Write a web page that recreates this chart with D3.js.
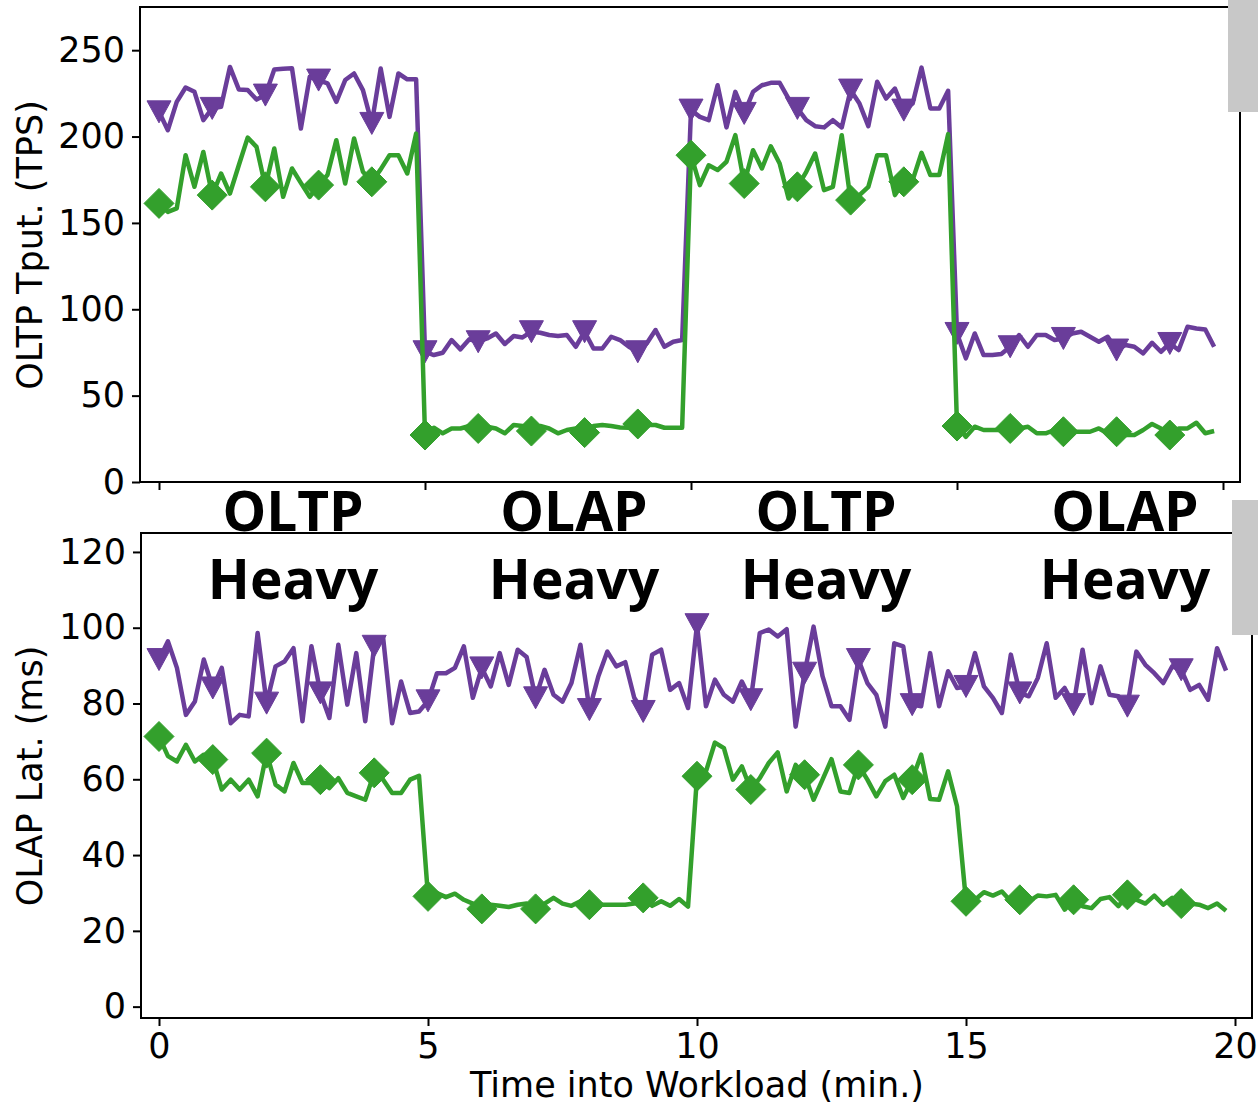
<!DOCTYPE html>
<html>
<head>
<meta charset="utf-8">
<script src="https://cdn.jsdelivr.net/npm/d3@7"></script>
<style>
  body { margin: 0; background: #fff; }
  svg { display: block; background: #fff; }
</style>
</head>
<body>
<svg id="chart" width="1258" height="1106"></svg>
<script>
// one sample every 10 s, 20 minutes of workload
var minutes = d3.range(120).map(function (i) { return i / 6; });

// OLTP throughput (TPS)
var tputA = [
  214.3, 203.7, 220.1, 228.4, 225.9, 209.5, 216.3, 217.2, 240.3, 227.3, 226.9, 221.4, 224.0, 238.8, 239.3, 239.5, 204.6, 234.6, 232.7, 230.8, 220.1, 232.7, 236.5, 226.9, 207.6, 239.4, 211.4, 236.5, 233.1, 233.1,
  75.4, 73.5, 74.8, 82.2, 76.8, 82.6, 81.2, 83.1, 86.0, 79.9, 84.5, 83.7, 87.0, 86.4, 85.1, 84.5, 85.1, 78.3, 87.0, 77.3, 77.3, 84.1, 82.2, 78.3, 75.4, 80.2, 88.0, 78.3, 81.2, 82.2,
  215.3, 211.4, 209.5, 229.7, 205.3, 225.9, 213.4, 225.9, 229.7, 231.1, 231.1, 222.0, 216.3, 209.5, 206.0, 205.3, 209.5, 205.3, 226.9, 219.1, 206.0, 231.7, 222.0, 227.8, 215.3, 219.1, 239.9, 216.3, 216.3, 226.5,
  86.0, 71.6, 86.0, 73.5, 73.5, 74.1, 78.3, 85.1, 78.3, 85.1, 85.1, 82.2, 83.1, 86.0, 87.0, 84.1, 81.2, 84.1, 76.4, 79.3, 78.3, 74.5, 80.6, 75.4, 80.2, 76.4, 89.9, 88.9, 88.3, 78.3
];
var tputB = [
  161.3, 156.4, 158.4, 189.2, 170.9, 191.1, 166.1, 178.6, 167.0, 183.4, 199.4, 194.0, 170.9, 193.1, 165.1, 181.5, 173.2, 165.1, 171.9, 177.7, 197.9, 172.8, 198.9, 179.6, 173.8, 181.0, 189.2, 189.2, 178.6, 201.7,
  27.2, 31.4, 28.2, 31.0, 31.0, 32.4, 31.0, 32.0, 31.0, 28.2, 33.0, 32.4, 29.5, 32.4, 31.0, 28.2, 30.1, 31.0, 28.6, 32.4, 33.0, 32.4, 31.6, 31.4, 33.6, 33.0, 33.0, 31.4, 31.4, 31.4,
  189.2, 171.9, 183.4, 180.6, 185.4, 200.8, 172.8, 192.1, 181.5, 194.4, 184.4, 164.1, 170.9, 179.6, 190.2, 169.0, 170.9, 200.8, 163.2, 166.1, 170.9, 189.2, 189.2, 166.1, 173.8, 174.8, 190.6, 177.7, 177.7, 201.4,
  32.4, 26.2, 32.0, 30.1, 30.1, 30.1, 31.0, 31.0, 32.0, 28.2, 28.2, 30.1, 29.1, 29.1, 29.1, 29.1, 31.0, 28.2, 29.1, 27.2, 27.2, 30.1, 33.6, 31.0, 27.2, 31.0, 31.0, 34.3, 28.2, 29.5
];

// OLAP latency (ms)
var latA = [
  91.6, 96.4, 89.4, 77.0, 80.5, 91.6, 84.1, 89.4, 74.8, 77.0, 76.6, 98.6, 80.1, 89.8, 91.1, 94.6, 75.3, 95.1, 82.8, 76.2, 95.5, 79.7, 93.3, 75.3, 95.1, 97.3, 74.8, 85.8, 77.5, 77.9,
  80.7, 88.0, 88.0, 89.4, 95.1, 81.5, 89.4, 84.5, 93.3, 84.9, 94.2, 92.3, 81.5, 88.9, 82.3, 80.5, 85.4, 95.5, 78.4, 87.2, 93.7, 89.8, 90.9, 81.5, 77.9, 92.9, 94.2, 83.6, 85.4, 78.8,
  100.8, 79.3, 86.3, 82.3, 80.5, 85.8, 81.0, 98.6, 99.5, 97.7, 99.6, 73.9, 88.0, 100.3, 87.2, 79.3, 79.3, 75.7, 91.6, 85.4, 82.3, 73.9, 95.9, 95.1, 79.7, 79.3, 93.3, 79.3, 88.5, 84.1,
  84.5, 93.3, 84.5, 81.5, 77.5, 92.9, 82.8, 81.9, 86.7, 95.9, 81.5, 84.1, 79.7, 94.2, 80.1, 89.8, 82.3, 81.9, 79.3, 93.7, 90.2, 88.0, 85.4, 89.8, 88.9, 83.6, 84.9, 81.0, 94.6, 88.7
];
var latB = [
  71.3, 66.1, 64.7, 69.1, 64.7, 66.5, 65.2, 57.3, 59.9, 57.3, 59.9, 55.5, 66.9, 58.6, 56.8, 64.3, 59.0, 59.0, 59.9, 57.7, 60.3, 56.4, 55.5, 54.6, 61.7, 59.9, 56.4, 56.4, 59.9, 60.9,
  29.1, 30.0, 28.9, 29.8, 28.2, 27.2, 25.8, 26.9, 26.6, 26.3, 26.9, 27.2, 25.8, 27.2, 28.7, 27.2, 26.6, 27.8, 26.9, 26.9, 26.9, 26.9, 26.9, 27.2, 28.7, 26.6, 27.8, 26.6, 28.4, 26.4,
  60.8, 62.1, 69.7, 68.2, 59.9, 63.4, 57.3, 60.3, 64.3, 67.1, 56.8, 63.8, 61.2, 54.6, 59.9, 65.3, 56.8, 56.4, 63.8, 59.9, 55.5, 59.5, 61.2, 55.1, 59.9, 66.5, 54.8, 54.6, 62.1, 52.9,
  27.8, 28.2, 30.2, 29.3, 30.4, 27.8, 28.2, 27.8, 29.3, 29.1, 29.5, 25.6, 28.2, 26.5, 26.0, 28.4, 28.9, 26.5, 29.5, 28.2, 27.2, 29.3, 26.9, 28.7, 27.2, 27.2, 26.9, 26.0, 27.2, 25.3
];

var xTicks = [0, 5, 10, 15, 20];
var tputTicks = [0, 50, 100, 150, 200, 250];
var latTicks = [0, 20, 40, 60, 80, 100, 120];
var phaseNames = ["OLTP", "OLAP", "OLTP", "OLAP"];

var PURPLE = "#6a3d9a", GREEN = "#33a02c";
var TRI = "M-12,-11L12,-11L0,11Z";        // 'v' marker
var DIAMOND = "M0,-15L15,0L0,15L-15,0Z";  // 'D' marker

function draw_series(g, x, y, vals, color, markerPath) {
    var pts = minutes.map(function (t, i) { return [t, vals[i]]; });
    var line = d3.line()
        .x(function (d) { return x(d[0]); })
        .y(function (d) { return y(d[1]); });

    g.append("path")
        .datum(pts)
        .attr("d", line)
        .attr("fill", "none")
        .attr("stroke", color)
        .attr("stroke-width", 4.5)
        .attr("stroke-linejoin", "round");

    g.selectAll(null)
        .data(pts.filter(function (d, i) { return i % 6 === 0; }))
        .enter()
        .append("path")
        .attr("d", markerPath)
        .attr("transform", function (d) { return "translate(" + x(d[0]) + "," + y(d[1]) + ")"; })
        .attr("fill", color)
        .attr("stroke", color)
        .attr("stroke-width", 1);
}

function style_axis(ax) {
    ax.select(".domain").remove();
    ax.selectAll(".tick line").attr("stroke", "#000").attr("stroke-width", 2);
    ax.selectAll(".tick text")
        .attr("fill", "#000")
        .style("font-family", "'DejaVu Sans', sans-serif")
        .style("font-size", "35px");
}

function draw_panel(svg, box, x, y, yTicks, showXLabels, seriesA, seriesB) {
    var g = svg.append("g");

    var clipId = "clip" + box.top;
    svg.append("clipPath").attr("id", clipId)
        .append("rect")
        .attr("x", box.left).attr("y", box.top)
        .attr("width", box.right - box.left).attr("height", box.bottom - box.top);

    var plot = g.append("g").attr("clip-path", "url(#" + clipId + ")");
    draw_series(plot, x, y, seriesA, PURPLE, TRI);
    draw_series(plot, x, y, seriesB, GREEN, DIAMOND);

    var yAx = g.append("g")
        .attr("transform", "translate(" + box.left + ",0)")
        .call(d3.axisLeft(y).tickValues(yTicks).tickSize(8).tickPadding(7));
    style_axis(yAx);

    var xAx = g.append("g")
        .attr("transform", "translate(0," + box.bottom + ")")
        .call(d3.axisBottom(x).tickValues(xTicks).tickSize(8).tickPadding(7)
            .tickFormat(showXLabels ? d3.format("d") : ""));
    style_axis(xAx);

    g.append("rect")
        .attr("x", box.left).attr("y", box.top)
        .attr("width", box.right - box.left).attr("height", box.bottom - box.top)
        .attr("fill", "none")
        .attr("stroke", "#000")
        .attr("stroke-width", 2);
}

function init() {
    var svg = d3.select("#chart");

    svg.append("rect").attr("width", 1258).attr("height", 1106).attr("fill", "#fff");

    var topBox = {left: 140, right: 1240, top: 7, bottom: 482};
    var botBox = {left: 141, right: 1252, top: 533, bottom: 1018};

    var xTop = d3.scaleLinear().domain([0, 20]).range([159, 1223]);
    var yTop = d3.scaleLinear().domain([0, 275]).range([482, 7]);
    var xBot = d3.scaleLinear().domain([0, 20]).range([159, 1235]);
    var yBot = d3.scaleLinear().domain([-3, 125]).range([1018, 533]);

    draw_panel(svg, topBox, xTop, yTop, tputTicks, false, tputA, tputB);
    draw_panel(svg, botBox, xBot, yBot, latTicks, true, latA, latB);

    // axis titles
    svg.append("text")
        .attr("transform", "translate(42,245) rotate(-90)")
        .attr("text-anchor", "middle")
        .style("font-family", "'DejaVu Sans', sans-serif")
        .style("font-size", "35px")
        .text("OLTP Tput. (TPS)");

    svg.append("text")
        .attr("transform", "translate(42,776) rotate(-90)")
        .attr("text-anchor", "middle")
        .style("font-family", "'DejaVu Sans', sans-serif")
        .style("font-size", "35px")
        .text("OLAP Lat. (ms)");

    svg.append("text")
        .attr("x", 697).attr("y", 1097)
        .attr("text-anchor", "middle")
        .style("font-family", "'DejaVu Sans', sans-serif")
        .style("font-size", "35px")
        .text("Time into Workload (min.)");

    // phase annotations laid over the gap between the panels
    var phaseX = [293, 574, 826, 1125];
    var ann = svg.append("g")
        .style("font-family", "'Open Sans', sans-serif")
        .style("font-weight", "bold")
        .style("font-size", "55px")
        .attr("text-anchor", "middle");
    phaseNames.forEach(function (name, i) {
        ann.append("text").attr("x", phaseX[i]).attr("y", 531).text(name);
        ann.append("text").attr("x", phaseX[i]).attr("y", 599).text("Heavy");
    });

    // grey boxes pasted at the right edge
    svg.append("rect").attr("x", 1228).attr("y", 0).attr("width", 30).attr("height", 112).attr("fill", "#c8c8c8");
    svg.append("rect").attr("x", 1232).attr("y", 500).attr("width", 26).attr("height", 135).attr("fill", "#c8c8c8");
}

d3.select(window).on("load", init);
</script>
</body>
</html>
